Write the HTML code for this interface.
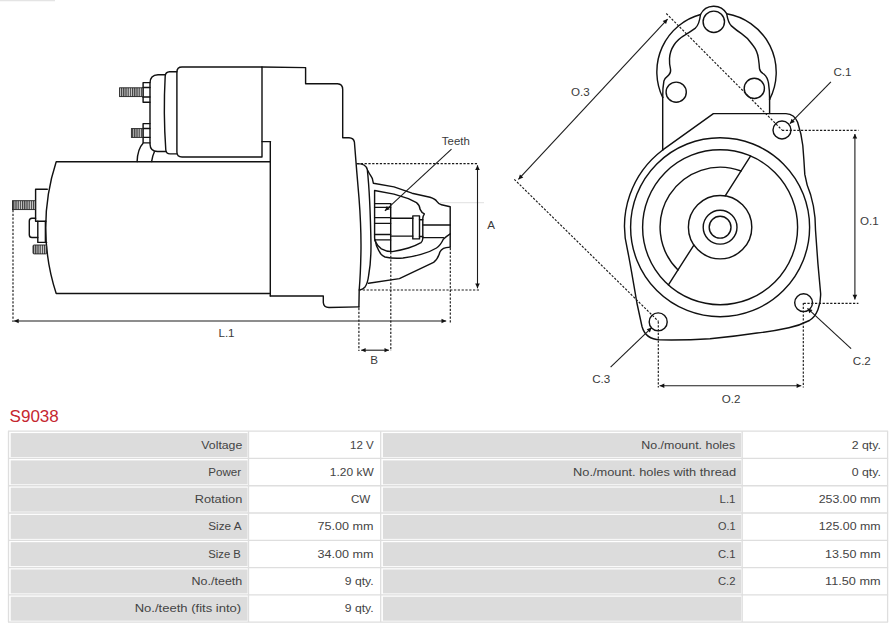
<!DOCTYPE html>
<html><head><meta charset="utf-8"><title>S9038</title>
<style>
html,body{margin:0;padding:0;background:#fff;}
body{width:889px;height:623px;overflow:hidden;position:relative;font-family:"Liberation Sans",sans-serif;}
svg{position:absolute;left:0;top:0;display:block;}
.o{fill:none;stroke:#111;stroke-width:1.42;stroke-linejoin:round;stroke-linecap:round;}
.d{fill:none;stroke:#1c1c1c;stroke-width:1.1;}
.dot{fill:none;stroke:#1a1a1a;stroke-width:1.15;stroke-dasharray:2.25 1.55;}
.thr{fill:url(#thr);stroke:#222;stroke-width:0.9;}
.lb{font-family:"Liberation Sans",sans-serif;fill:#3a3a3a;text-anchor:middle;}
.tt{font-family:"Liberation Sans",sans-serif;font-size:11.7px;fill:#444;}
.ttl{font-family:"Liberation Sans",sans-serif;font-size:16.3px;fill:#c5272f;}
</style></head><body>
<svg width="889" height="623" viewBox="0 0 889 623">
<defs>
<pattern id="thr" width="2.2" height="4" patternUnits="userSpaceOnUse"><rect width="2.2" height="4" fill="#d6d6d6"/><rect width="1.2" height="4" fill="#3c3c3c"/></pattern>
</defs>
<path d="M0,0.5 H55" stroke="#e4e4e4" stroke-width="1.5" fill="none"/>
<path class="o" d="M270.3,161.8 H56.2 A212,212 0 0 0 56.2,293.5 H270.3"/>
<path class="o" d="M270.3,141.6 V295.9"/>
<path class="o" d="M262,141.6 H270.3"/>
<path class="o" d="M262,67 H182 Q176.9,67 176.9,72 V152 Q176.9,157 182,157 H262 V67"/>
<path class="o" d="M176.9,71.8 H169.5 Q165.6,72 165.2,76 Q163.2,113 165.8,150 Q166.3,153.9 170,153.9 H176.9"/>
<path class="o" d="M165.2,74.7 H158 Q150,75 150,83 V144 Q150.2,151.4 157.5,151.5 H166"/>
<path class="o" d="M150,82.6 H143.1 V102.2 H150 M142.6,87.5 H150 M142.6,97 H150"/>
<rect class="thr" x="119.6" y="87.8" width="23.3" height="8.8"/>
<path class="o" d="M150,123.6 H143.1 V142.9 H150 M142.6,128.5 H150 M142.6,137.4 H150"/>
<rect class="thr" x="131.4" y="128.6" width="11.4" height="8.8"/>
<path class="o" d="M137.1,161.6 Q137.6,149 142.9,143.5"/>
<path class="o" d="M151.6,161.6 Q152.4,156 154.4,151.8"/>
<path class="o" d="M262,67 L305.6,67.6 V83.7 H337.5 Q342.7,83.9 342.7,89.5 V137.7 H349 Q353.6,137.9 354.4,142 C355.8,160 357.4,180 359,198 C360.4,216 361.1,232 361,248 C360.8,264 360.2,278 359.2,290 L358.9,307"/>
<path class="o" d="M270.3,296 H323.3 V302.5 Q323.6,307.4 329,307.5 L358.9,306.9"/>
<path class="o" d="M357,163.6 C363,163.6 366.2,165 367.3,169.5 C369,185 370.5,215 371,245 C371,258 370,268 368.7,275 C368,281 366.6,285 364.8,287.3 Q362.8,289.6 359.2,289.9"/>
<path class="o" d="M367.9,170.7 C369.5,174.5 371.8,176.5 372.4,178.8 Q373,181.5 373.4,183.3 L394,186.9 L412,193.2 L430,197.2 Q435.2,198.8 436.8,201.3 Q438.6,204 441.5,204.7 L450.2,206.7 V247.1"/>
<path class="o" d="M450.2,247.1 Q445.5,247.3 443.5,248.3 Q441,249.5 439.9,252 Q438,259 433.6,262.4 L399.4,278.6 L368.6,283.3"/>
<path class="o" d="M450.2,233.8 Q446,236.5 443.3,239.3 Q440.5,245.5 436.5,248 Q430,252 421,254.4 Q412,257 403,258 Q393,258.8 385,257 Q380.8,255.3 378.9,250.8 Q375.8,245.5 375.1,240"/>
<path class="o" d="M374.6,190.5 L394,194.1 L408.4,198.6 L416.5,202.6 Q419.6,205 420.1,209.4 Q421.5,212.6 424.4,213.9 Q422.9,216 422.8,218.4 V238.5 Q422.5,241.5 421,242.6 Q415,246 408.4,248 Q400,250.5 392.2,251.6 Q386,251.6 381.4,248.9 Q377.5,246.3 376,242.6 Q374.8,240.5 374.6,238 Z"/>
<path class="o" d="M374.6,203.6 H390.6"/>
<path class="o" d="M374.6,207.4 H390.6"/>
<path class="o" d="M374.6,217.6 H390.6"/>
<path class="o" d="M374.6,223.4 H390.6"/>
<path class="o" d="M374.6,234.5 H390.6"/>
<path class="o" d="M374.6,239.9 H390.6"/>
<path class="o" d="M390.7,203.6 V251.4"/>
<path class="o" d="M390.8,218.3 H412.9 M390.8,236.1 H412.9"/>
<rect class="o" x="412.8" y="215.9" width="6.7" height="23"/>
<path class="o" d="M419.5,219.7 H422.8 M419.5,236.5 H422.8"/>
<path class="o" d="M422.8,225 H450.2 M422.8,237.6 H443.5"/>
<path class="o" d="M47.3,189.2 H35.6 V221.2 H45.9"/>
<path class="o" d="M37.8,221.2 V242.4 H46.6 M45.4,221.2 V242.4"/>
<path class="o" d="M35.6,218.3 H32 Q29.3,218.5 29.3,221 V234.7 Q29.3,237.5 32,237.5 H37.8"/>
<rect class="thr" x="12.5" y="200.7" width="23" height="8.9"/>
<rect class="thr" x="33" y="245" width="13.6" height="8.9" rx="1"/>
<path d="M440,202.7 H484" stroke="#d8d8d8" stroke-width="0.8" fill="none"/>
<path class="dot" d="M357,163.6 H478"/>
<path class="dot" d="M359,290 H479.5"/>
<path class="d" d="M477.50,165.30 L477.50,288.30"/><polygon points="477.50,288.30 475.20,283.60 479.80,283.60" fill="#111"/><polygon points="477.50,165.30 479.80,170.00 475.20,170.00" fill="#111"/>
<path class="dot" d="M13,210 V322"/>
<path class="d" d="M14.00,321.00 L446.20,321.00"/><polygon points="446.20,321.00 441.50,323.30 441.50,318.70" fill="#111"/><polygon points="14.00,321.00 18.70,318.70 18.70,323.30" fill="#111"/>
<path class="dot" d="M358.9,308 V351"/>
<path class="dot" d="M390.8,252 V351"/>
<path class="dot" d="M450.3,248 V322.7"/>
<path class="d" d="M361.20,350.20 L388.90,350.20"/><polygon points="388.90,350.20 384.50,352.30 384.50,348.10" fill="#111"/><polygon points="361.20,350.20 365.60,348.10 365.60,352.30" fill="#111"/>
<path class="d" d="M451.50,149.20 L384.90,210.80"/>
<polygon points="384.90,210.80 386.79,205.92 389.91,209.30" fill="#111"/>
<circle class="o" cx="720.1" cy="227.2" r="10.9"/>
<circle class="o" cx="720.1" cy="227.2" r="16.9"/>
<circle class="o" cx="720.1" cy="227.2" r="31.7"/>
<circle class="o" cx="720.1" cy="227.2" r="77.5"/>
<circle class="o" cx="720.1" cy="227.2" r="89.5"/>
<path class="o" d="M750.65,155.98 L725.19,195.91"/>
<path class="o" d="M693.89,245.02 L668.43,284.96"/>
<path class="o" d="M741.08,170.99 A60,60 0 0 0 678.00,269.95"/>
<path class="o" d="M662.4,150.2 L713.4,113.6 H786 Q794.5,114 797.6,122.3 Q801.5,134 802.8,145.5 Q804,160 804.8,174.4 Q806.5,185 810.6,194.6 Q814,206 815,217.8 L815.5,230 L817.9,263.4 L820.6,293 Q821,302 817.9,309.7 Q815,317 809.4,320.5 Q800,325.3 788.9,327.8 Q775,331 757,333 Q735,336.4 710,338.7 Q685,340.4 660,339.9 Q645.5,339.3 642,326.5 L636.9,303 Q630,262 627.5,250 A95.5,95.5 0 0 1 662.4,150.2"/>
<path class="o" d="M662.7,97 V150.2"/>
<path class="o" d="M769.6,99 V113.6"/>
<path class="o" d="M662.7,97.5 A59.4,59.4 0 0 1 700.50,14.50 A14.8,14.8 0 0 1 726.66,13.68 A59.4,59.4 0 0 1 769.6,99.5"/>
<path class="o" d="M700.50,14.50 Q699.3,24.5 695.4,28.1 Q690,32 685.2,34.9 Q678,39 674,45 Q670,51 669.5,58.5 Q669.2,64 670.6,69.7 Q671,73 668.4,75.4 Q665,78 663.9,81 Q662.6,88 662.7,97.5"/>
<path class="o" d="M726.66,13.68 Q728.2,23 731.4,25.9 Q736,30 741.5,33.7 Q748,38 752.7,45 Q757.5,51 758.4,58.5 Q759.2,64 759.5,68.6 Q760,72 764,74.2 Q767.5,77 768.5,83.2 Q769.6,90 769.6,99.5"/>
<circle class="o" cx="713.8" cy="21.8" r="10.7"/>
<circle class="o" cx="676.2" cy="92.2" r="10.1"/>
<circle class="o" cx="754.3" cy="88.4" r="10.1"/>
<circle class="o" cx="782" cy="130" r="9"/>
<circle class="o" cx="803.6" cy="302.7" r="8.9"/>
<circle class="o" cx="658.2" cy="321.9" r="9"/>
<path class="dot" d="M666.3,13.5 L782,130"/>
<path class="dot" d="M514.3,179.3 L658.5,321.4"/>
<path class="d" d="M518.40,179.40 L667.60,19.10"/><polygon points="667.60,19.10 666.08,24.11 662.71,20.97" fill="#111"/><polygon points="518.40,179.40 519.92,174.39 523.29,177.53" fill="#111"/>
<path class="dot" d="M782,130.3 H858.4"/>
<path class="dot" d="M803.6,303.3 H858.4"/>
<path class="d" d="M854.90,133.90 L854.90,299.50"/><polygon points="854.90,299.50 852.60,294.80 857.20,294.80" fill="#111"/><polygon points="854.90,133.90 857.20,138.60 852.60,138.60" fill="#111"/>
<path class="dot" d="M658.3,321.4 V387.6"/>
<path class="dot" d="M803.3,303 V387.6"/>
<path class="d" d="M659.60,385.80 L801.30,385.80"/><polygon points="801.30,385.80 796.60,388.10 796.60,383.50" fill="#111"/><polygon points="659.60,385.80 664.30,383.50 664.30,388.10" fill="#111"/>
<path class="d" d="M830.90,81.80 L789.90,123.70"/>
<polygon points="789.90,123.70 791.54,118.73 794.83,121.95" fill="#111"/>
<path class="d" d="M851.10,348.70 L807.50,308.40"/>
<polygon points="807.50,308.40 812.51,309.90 809.39,313.28" fill="#111"/>
<path class="d" d="M610.60,367.20 L651.70,327.60"/>
<polygon points="651.70,327.60 649.91,332.52 646.72,329.20" fill="#111"/>
<text class="lb" x="455.8" y="145.2" font-size="11.4">Teeth</text>
<text class="lb" x="491.2" y="229.3" font-size="11.6">A</text>
<text class="lb" x="226.5" y="337.3" font-size="11.6">L.1</text>
<text class="lb" x="374.2" y="363.9" font-size="11.6">B</text>
<text class="lb" x="580.3" y="96.4" font-size="11.6">O.3</text>
<text class="lb" x="869.3" y="224.9" font-size="11.6">O.1</text>
<text class="lb" x="731.1" y="402.5" font-size="11.6">O.2</text>
<text class="lb" x="842.4" y="75.9" font-size="11.6">C.1</text>
<text class="lb" x="861.8" y="365.1" font-size="11.6">C.2</text>
<text class="lb" x="601.2" y="383.3" font-size="11.6">C.3</text>
<text class="ttl" x="9.6" y="421.7" textLength="49.2" lengthAdjust="spacingAndGlyphs">S9038</text>
<rect x="10.70" y="433.10" width="236.80" height="23.97" fill="#dcdcdc"/>
<rect x="382.90" y="433.10" width="358.30" height="23.97" fill="#dcdcdc"/>
<rect x="10.70" y="460.37" width="236.80" height="23.97" fill="#dcdcdc"/>
<rect x="382.90" y="460.37" width="358.30" height="23.97" fill="#dcdcdc"/>
<rect x="10.70" y="487.64" width="236.80" height="23.97" fill="#dcdcdc"/>
<rect x="382.90" y="487.64" width="358.30" height="23.97" fill="#dcdcdc"/>
<rect x="10.70" y="514.91" width="236.80" height="23.97" fill="#dcdcdc"/>
<rect x="382.90" y="514.91" width="358.30" height="23.97" fill="#dcdcdc"/>
<rect x="10.70" y="542.18" width="236.80" height="23.97" fill="#dcdcdc"/>
<rect x="382.90" y="542.18" width="358.30" height="23.97" fill="#dcdcdc"/>
<rect x="10.70" y="569.45" width="236.80" height="23.97" fill="#dcdcdc"/>
<rect x="382.90" y="569.45" width="358.30" height="23.97" fill="#dcdcdc"/>
<rect x="10.70" y="596.72" width="236.80" height="23.97" fill="#dcdcdc"/>
<rect x="382.90" y="596.72" width="358.30" height="23.97" fill="#dcdcdc"/>
<path d="M8.0,431.20 H888.1" stroke="#dedede" stroke-width="1.3" fill="none"/>
<path d="M8.0,458.47 H888.1" stroke="#dedede" stroke-width="1.3" fill="none"/>
<path d="M8.0,485.74 H888.1" stroke="#dedede" stroke-width="1.3" fill="none"/>
<path d="M8.0,513.01 H888.1" stroke="#dedede" stroke-width="1.3" fill="none"/>
<path d="M8.0,540.28 H888.1" stroke="#dedede" stroke-width="1.3" fill="none"/>
<path d="M8.0,567.55 H888.1" stroke="#dedede" stroke-width="1.3" fill="none"/>
<path d="M8.0,594.82 H888.1" stroke="#dedede" stroke-width="1.3" fill="none"/>
<path d="M8.0,622.09 H888.1" stroke="#dedede" stroke-width="1.3" fill="none"/>
<path d="M8.5,431.20 V622.09" stroke="#dedede" stroke-width="1.3" fill="none"/>
<path d="M248.5,431.20 V622.09" stroke="#dedede" stroke-width="1.3" fill="none"/>
<path d="M380.7,431.20 V622.09" stroke="#dedede" stroke-width="1.3" fill="none"/>
<path d="M742.2,431.20 V622.09" stroke="#dedede" stroke-width="1.3" fill="none"/>
<path d="M887.6,431.20 V622.09" stroke="#dedede" stroke-width="1.3" fill="none"/>
<text class="tt" x="201.30" y="448.50" textLength="41.00" lengthAdjust="spacingAndGlyphs">Voltage</text>
<text class="tt" x="350.00" y="448.50" textLength="23.70" lengthAdjust="spacingAndGlyphs">12 V</text>
<text class="tt" x="641.30" y="448.50" textLength="93.90" lengthAdjust="spacingAndGlyphs">No./mount. holes</text>
<text class="tt" x="851.70" y="448.50" textLength="29.20" lengthAdjust="spacingAndGlyphs">2 qty.</text>
<text class="tt" x="208.30" y="475.77" textLength="32.90" lengthAdjust="spacingAndGlyphs">Power</text>
<text class="tt" x="329.80" y="475.77" textLength="43.90" lengthAdjust="spacingAndGlyphs">1.20 kW</text>
<text class="tt" x="573.00" y="475.77" textLength="163.10" lengthAdjust="spacingAndGlyphs">No./mount. holes with thread</text>
<text class="tt" x="851.70" y="475.77" textLength="29.20" lengthAdjust="spacingAndGlyphs">0 qty.</text>
<text class="tt" x="194.70" y="503.04" textLength="47.60" lengthAdjust="spacingAndGlyphs">Rotation</text>
<text class="tt" x="350.90" y="503.04" textLength="19.40" lengthAdjust="spacingAndGlyphs">CW</text>
<text class="tt" x="719.50" y="503.04" textLength="16.00" lengthAdjust="spacingAndGlyphs">L.1</text>
<text class="tt" x="818.70" y="503.04" textLength="61.90" lengthAdjust="spacingAndGlyphs">253.00 mm</text>
<text class="tt" x="208.30" y="530.31" textLength="33.20" lengthAdjust="spacingAndGlyphs">Size A</text>
<text class="tt" x="317.50" y="530.31" textLength="55.90" lengthAdjust="spacingAndGlyphs">75.00 mm</text>
<text class="tt" x="717.90" y="530.31" textLength="17.60" lengthAdjust="spacingAndGlyphs">O.1</text>
<text class="tt" x="818.70" y="530.31" textLength="61.90" lengthAdjust="spacingAndGlyphs">125.00 mm</text>
<text class="tt" x="208.30" y="557.58" textLength="32.60" lengthAdjust="spacingAndGlyphs">Size B</text>
<text class="tt" x="317.50" y="557.58" textLength="55.90" lengthAdjust="spacingAndGlyphs">34.00 mm</text>
<text class="tt" x="717.90" y="557.58" textLength="17.60" lengthAdjust="spacingAndGlyphs">C.1</text>
<text class="tt" x="825.10" y="557.58" textLength="55.50" lengthAdjust="spacingAndGlyphs">13.50 mm</text>
<text class="tt" x="191.60" y="584.85" textLength="50.70" lengthAdjust="spacingAndGlyphs">No./teeth</text>
<text class="tt" x="344.80" y="584.85" textLength="28.90" lengthAdjust="spacingAndGlyphs">9 qty.</text>
<text class="tt" x="717.90" y="584.85" textLength="17.60" lengthAdjust="spacingAndGlyphs">C.2</text>
<text class="tt" x="825.10" y="584.85" textLength="55.50" lengthAdjust="spacingAndGlyphs">11.50 mm</text>
<text class="tt" x="134.70" y="612.12" textLength="106.50" lengthAdjust="spacingAndGlyphs">No./teeth (fits into)</text>
<text class="tt" x="344.80" y="612.12" textLength="28.90" lengthAdjust="spacingAndGlyphs">9 qty.</text>
</svg>
</body></html>
